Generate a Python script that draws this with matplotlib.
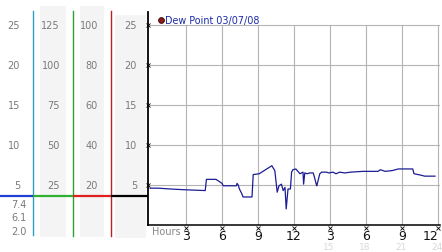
import matplotlib
matplotlib.use('Agg')
import matplotlib.pyplot as plt
from matplotlib.transforms import blended_transform_factory
from matplotlib.patches import Rectangle

# dew point trace (hours since midnight, value)
hours = [0, 0.67, 1.67, 2.9, 4.6, 4.7, 5.5, 6.0, 6.1, 7.2, 7.25, 7.35, 7.45, 7.65,
         7.75, 8.5, 8.6, 9.1, 10.15, 10.4, 10.6, 10.75, 10.95, 11.1, 11.25, 11.35,
         11.5, 11.7, 11.8, 11.9, 12.15, 12.5, 12.75, 12.8, 12.9, 13.1, 13.3, 13.6,
         13.7, 13.85, 13.9, 14.0, 14.15, 14.3, 14.7, 14.9, 15.25, 15.5, 15.8, 16.25,
         16.7, 17.75, 19.0, 19.2, 19.6, 20.2, 20.7, 21.9, 22.0, 22.5, 22.9, 23.75]
dew = [4.6, 4.6, 4.5, 4.4, 4.3, 5.7, 5.7, 5.2, 4.9, 4.9, 5.2, 5.0, 4.5, 3.9,
       3.5, 3.5, 6.3, 6.4, 7.4, 6.8, 4.1, 4.9, 5.1, 4.3, 4.7, 2.0,
       4.5, 4.5, 6.6, 6.9, 7.0, 6.4, 6.6, 5.1, 6.5, 6.4, 6.5, 6.5,
       6.0, 5.1, 4.9, 5.5, 6.4, 6.6, 6.6, 6.5, 6.6, 6.4, 6.6, 6.5,
       6.6, 6.7, 6.7, 6.9, 6.7, 6.8, 7.0, 7.0, 6.4, 6.25, 6.1, 6.1]

xticks = [3, 6, 9, 12, 15, 18, 21, 24]
xticklabels = ['3', '6', '9', '12', '3', '6', '9', '12']
late_ticks = [15, 18, 21, 24]
yticks = [5, 10, 15, 20, 25]

# scale columns on the left
col1 = ['25', '20', '15', '10', '5']
col2 = ['125', '100', '75', '50', '25']
col3 = ['100', '80', '60', '40', '20']
col4 = ['25', '20', '15', '10', '5']
stats = ['7.4', '6.1', '2.0']

W, H = 442, 253
fig = plt.figure(figsize=(W / 100, H / 100), dpi=100)

# decoration layer in pixel coordinates
deco = fig.add_axes([0, 0, 1, 1])
deco.set_xlim(0, W)
deco.set_ylim(H, 0)
deco.axis('off')

ax = fig.add_axes([148 / W, 1 - 226 / H, 292 / W, 213 / H])
ax.set_xlim(-0.17, 24.17)
ax.set_ylim(0, 26.6)
ax.patch.set_alpha(0)

gray_bg = '#f4f4f4'
deco.add_patch(Rectangle((40, 7), 26, 231, color=gray_bg, lw=0))
deco.add_patch(Rectangle((80, 7), 24, 231, color=gray_bg, lw=0))
deco.add_patch(Rectangle((115, 16), 31, 223, color=gray_bg, lw=0))

deco.plot([33, 33], [12, 236], color='#2f9fc6', lw=1)
deco.plot([72.5, 72.5], [12, 237], color='#2ea02e', lw=1)
deco.plot([111, 111], [12, 237], color='#b52222', lw=1)

deco.plot([0, 33], [197, 197], color='#1f3fd8', lw=1.6, solid_capstyle='butt')
deco.plot([33, 72.5], [197, 197], color='#30b030', lw=1.6, solid_capstyle='butt')
deco.plot([72.5, 111], [197, 197], color='#e02020', lw=1.6, solid_capstyle='butt')
deco.plot([111, 148], [197, 197], color='black', lw=1.6, solid_capstyle='butt')

tr = blended_transform_factory(deco.transData, ax.transData)
lab_kw = dict(fontsize=7, color='#7a7a7a', va='center', ha='right')
for v, a, b, c, d in zip(yticks[::-1], col1, col2, col3, col4):
    deco.text(20, v, a, transform=tr, **lab_kw)
    deco.text(60, v, b, transform=tr, **lab_kw)
    deco.text(98, v, c, transform=tr, **lab_kw)
    deco.text(137, v, d, transform=tr, **lab_kw)

for y, s in zip([205, 218.5, 232], stats):
    deco.text(27, y, s, **lab_kw)

# grid
ax.hlines(yticks, -0.17, 24.17, color='#b4b4b4', lw=0.8, zorder=1)
ax.vlines(xticks, 0, 25, color='#b4b4b4', lw=0.8, zorder=1)

ax.plot(hours, dew, color='#1c1c96', lw=0.9, zorder=3)

for s in ['top', 'right']:
    ax.spines[s].set_visible(False)
ax.spines['left'].set_linewidth(1.3)
ax.spines['bottom'].set_linewidth(1.1)

ax.set_yticks(yticks)
ax.set_yticklabels([])
ax.tick_params(axis='y', length=0)
ax.plot([-0.2] * len(yticks), yticks, 'x', color='black', ms=2.2, mew=0.6,
        clip_on=False, zorder=4)

ax.set_xticks(xticks)
ax.set_xticklabels(xticklabels, fontsize=9, color='#111111')
ax.tick_params(axis='x', length=0, pad=3.2)
ax.get_xticklabels()[-1].set_horizontalalignment('right')
ax.get_xticklabels()[-1].set_x(24.3)
ax.plot(xticks, [-0.4] * len(xticks), 'x', color='black', ms=2.2, mew=0.6,
        clip_on=False, zorder=4)

bt = blended_transform_factory(ax.transData, ax.transAxes)
ax.text(0.2, -0.03, 'Hours', fontsize=7, color='#888888', va='center', ha='left',
        transform=bt)
for h in late_ticks:
    ax.text(h - 0.1, -0.102, str(h), fontsize=6.5, color='#d8d8d8', va='center',
            ha='center', transform=bt)

# legend
deco.plot([160.5], [21], 'o', color='#8b1a1a', mec='#3a0a0a', ms=4.2, mew=0.6)
deco.text(165, 21, 'Dew Point 03/07/08', fontsize=6.9, color='#1a2aa8',
          va='center', ha='left')

fig.savefig('out.png', dpi=100)
plt.close()
